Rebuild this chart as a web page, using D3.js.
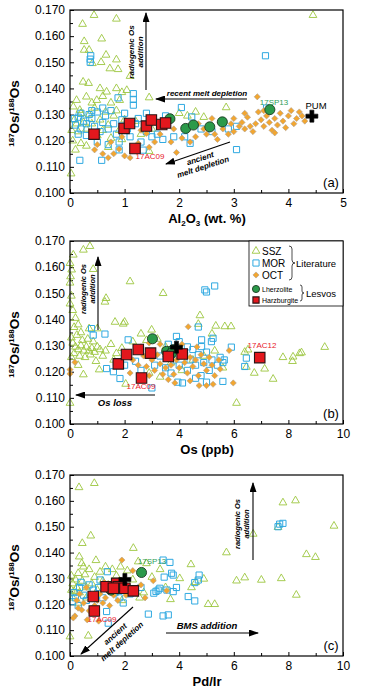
<html>
<head>
<meta charset="utf-8">
<script src="https://d3js.org/d3.v7.min.js"></script>
<style>
body { margin:0; background:#fff; }
text { font-family: "Liberation Sans", Arial, sans-serif; }
</style>
</head>
<body>
<svg id="chart" width="365" height="700"></svg>
<script>
// ---- data: [x, 187Os/188Os] ----
// (a) Al2O3 (wt. %)
var sszA = [[0.44,0.168],[0.85,0.1666],[0.23,0.1646],[4.45,0.168],[0.26,0.158],[0.58,0.159],[0.26,0.1547],[0.35,0.1547],[0.66,0.1528],[0.85,0.151],[0.41,0.1496],[0.57,0.150],[0.73,0.1476],[0.88,0.1473],[1.10,0.1447],[0.24,0.1425],[0.34,0.142],[0.55,0.140],[0.67,0.1387],[0.85,0.140],[0.12,0.1355],[0.06,0.133],[1.04,0.1393],[1.45,0.1365],[2.86,0.1327],[0.02,0.1074],[0.30,0.1368],[0.49,0.1355],[0.18,0.1317],[0.91,0.1355],[0.6,0.137],[0.75,0.1345],[0.95,0.1385],[0.4,0.1345],[0.08,0.128],[0.03,0.124],[0.05,0.120],[0.1,0.1165],[0.2,0.119],[0.3,0.118],[0.15,0.1235],[0.25,0.127],[0.35,0.130],[0.45,0.1325],[0.55,0.128],[0.65,0.131],[0.7,0.126],[0.8,0.1295],[0.9,0.124],[1.0,0.128],[0.5,0.122],[0.6,0.124],[0.75,0.121],[0.4,0.1265],[0.3,0.1245],[0.2,0.1305],[0.12,0.1265],[0.85,0.1315],[1.2,0.1275],[1.3,0.1225],[0.95,0.1205],[1.5,0.1245],[2.0,0.1305],[2.15,0.1295],[2.3,0.131],[2.45,0.129],[1.85,0.1285],[0.7,0.1175],[1.45,0.116]];
var morA = [[3.58,0.1525],[0.37,0.1512],[0.37,0.150],[0.38,0.1525],[1.16,0.138],[1.16,0.1358],[1.16,0.1336],[0.88,0.1364],[2.04,0.1327],[2.23,0.1291],[0.18,0.1125],[0.58,0.1125],[3.05,0.1166],[1.34,0.1164],[0.1,0.126],[0.15,0.129],[0.2,0.1245],[0.25,0.1275],[0.3,0.122],[0.35,0.13],[0.4,0.1285],[0.45,0.1255],[0.5,0.131],[0.55,0.1235],[0.6,0.127],[0.65,0.1295],[0.7,0.1245],[0.75,0.1315],[0.8,0.1265],[0.85,0.1225],[0.9,0.1195],[0.95,0.128],[1.0,0.1305],[1.05,0.1245],[1.1,0.1215],[1.2,0.1265],[1.25,0.1285],[1.3,0.1195],[1.4,0.1235],[1.5,0.1215],[1.6,0.1225],[1.7,0.1205],[1.9,0.1215],[2.1,0.1215],[2.2,0.119],[2.4,0.1245],[2.6,0.1235],[2.9,0.1245],[3.05,0.1255],[0.9,0.1165],[0.7,0.1185],[0.5,0.1195],[0.3,0.1265],[0.2,0.1305],[0.15,0.1225],[0.6,0.1325],[1.4,0.1305],[1.75,0.1295],[3.6,0.1325],[0.4,0.1315],[0.08,0.1285]];
var octA = [[3.43,0.1368],[0.5,0.1185],[0.45,0.1165],[0.6,0.115],[0.7,0.1135],[0.8,0.115],[0.9,0.1168],[1.0,0.1142],[1.1,0.1135],[1.25,0.119],[1.45,0.1175],[1.4,0.1228],[1.55,0.1195],[1.65,0.1225],[1.85,0.1195],[1.95,0.1155],[2.05,0.121],[2.2,0.1195],[2.3,0.1215],[2.5,0.1225],[2.45,0.1245],[2.65,0.1225],[2.75,0.127],[2.8,0.1245],[2.9,0.1225],[2.95,0.1265],[3.0,0.1285],[3.1,0.1255],[3.15,0.127],[3.2,0.1245],[3.25,0.129],[3.3,0.1255],[3.35,0.1235],[3.4,0.1265],[3.45,0.131],[3.5,0.128],[3.55,0.1255],[3.6,0.1295],[3.65,0.127],[3.7,0.124],[3.75,0.1285],[3.8,0.126],[3.85,0.1305],[3.9,0.1275],[3.95,0.125],[4.0,0.1295],[4.05,0.1315],[4.1,0.1265],[4.15,0.1285],[4.2,0.131],[4.25,0.1295],[3.55,0.1315],[3.2,0.1305],[2.6,0.1285],[2.35,0.1265],[1.9,0.1245],[1.6,0.1265],[1.3,0.124],[0.95,0.1215],[0.75,0.1195],[3.75,0.123],[3.0,0.1235],[2.7,0.1205],[4.3,0.1275]];
var lherzA = [[1.83,0.1284],[2.12,0.1247],[2.26,0.126],[2.56,0.1253],[2.79,0.1272],[3.66,0.1319]];
var harzA = [[0.44,0.1225],[0.99,0.1247],[1.09,0.1266],[1.40,0.1256],[1.49,0.1279],[1.19,0.117],[1.68,0.1262],[1.75,0.1268]];
var pumA = [[4.43,0.1294]];

// (b) Os (ppb)
var sszB = [[0.73,0.168],[0.49,0.1666],[0.12,0.1647],[0.0,0.1615],[0.06,0.159],[0.02,0.1564],[0.0,0.154],[0.05,0.149],[0.0,0.146],[0.85,0.1592],[2.2,0.1545],[3.41,0.150],[1.32,0.1481],[1.28,0.1467],[1.65,0.139],[2.0,0.139],[1.95,0.1383],[4.76,0.1415],[4.7,0.1382],[5.67,0.1373],[5.9,0.1373],[5.34,0.1375],[2.99,0.136],[6.52,0.1284],[9.33,0.1294],[7.8,0.1255],[8.17,0.1257],[8.41,0.127],[8.48,0.1273],[8.15,0.124],[7.13,0.1211],[7.44,0.1172],[6.1,0.108],[0.0,0.108],[0.49,0.1189],[1.07,0.1208],[2.04,0.1153],[6.46,0.1218],[0.1,0.1435],[0.2,0.1405],[0.3,0.138],[0.15,0.137],[0.4,0.135],[0.25,0.134],[0.05,0.133],[0.1,0.131],[0.2,0.1295],[0.3,0.1285],[0.4,0.13],[0.5,0.128],[0.6,0.1295],[0.7,0.128],[0.8,0.129],[0.9,0.1275],[1.0,0.1295],[1.1,0.1285],[1.2,0.126],[1.3,0.128],[0.15,0.127],[0.35,0.126],[0.55,0.1255],[0.75,0.1265],[0.95,0.124],[0.05,0.1255],[0.45,0.132],[0.65,0.1325],[0.85,0.1315],[1.5,0.1305],[1.7,0.127],[1.6,0.1245],[1.9,0.129],[2.3,0.1315],[2.6,0.1345],[2.8,0.132],[3.2,0.1325],[3.5,0.1295],[3.7,0.1235],[3.3,0.118],[2.9,0.1195],[4.1,0.1205],[4.5,0.1245],[4.9,0.126],[5.3,0.128],[5.6,0.1215],[5.2,0.1345],[6.4,0.1275],[0.7,0.1365],[1.0,0.1365],[0.3,0.1225],[6.75,0.1195]];
var morB = [[4.94,0.1513],[5.0,0.1505],[5.3,0.1528],[0.79,0.1365],[0.85,0.134],[1.28,0.1344],[4.7,0.1371],[2.13,0.1322],[1.34,0.1212],[1.59,0.120],[1.83,0.1174],[3.0,0.1138],[4.12,0.1157],[5.6,0.1163],[5.91,0.1294],[6.46,0.1252],[6.4,0.122],[5.24,0.1328],[5.18,0.1315],[4.82,0.1322],[4.82,0.1296],[3.9,0.1335],[2.4,0.124],[2.6,0.1205],[3.1,0.1225],[3.3,0.126],[3.5,0.1215],[3.7,0.1195],[3.8,0.1245],[4.0,0.1225],[4.2,0.1265],[4.3,0.1205],[4.4,0.1245],[4.5,0.1285],[4.6,0.1225],[4.7,0.1265],[4.8,0.1185],[4.9,0.1235],[5.0,0.1275],[5.1,0.1205],[5.2,0.1245],[5.4,0.1225],[5.5,0.1255],[5.6,0.1235],[5.65,0.1245],[3.6,0.1305],[4.0,0.1315],[4.3,0.1295],[5.0,0.116],[4.6,0.1175],[3.95,0.116],[1.7,0.1235],[2.0,0.1225]];
var octB = [[0.0,0.1208],[0.0,0.1192],[0.18,0.1236],[4.33,0.1372],[5.83,0.1281],[5.98,0.1157],[3.05,0.1322],[5.0,0.1147],[5.24,0.1152],[4.73,0.1147],[3.84,0.1157],[2.3,0.1245],[2.5,0.1225],[2.7,0.126],[2.8,0.122],[2.9,0.1185],[3.0,0.1245],[3.1,0.1205],[3.2,0.1265],[3.3,0.123],[3.4,0.119],[3.5,0.1215],[3.6,0.125],[3.7,0.1225],[3.8,0.119],[3.9,0.1245],[4.0,0.1215],[4.1,0.1265],[4.2,0.1235],[4.3,0.1195],[4.4,0.1255],[4.5,0.122],[4.6,0.1245],[4.7,0.1185],[4.8,0.1265],[4.9,0.123],[5.0,0.1205],[5.1,0.1255],[5.2,0.1225],[5.3,0.1185],[5.45,0.1245],[5.5,0.121],[2.6,0.1295],[3.3,0.1305],[4.1,0.1305],[3.6,0.117],[4.4,0.1165],[2.9,0.131],[4.65,0.1295],[2.2,0.1195]];
var lherzB = [[3.02,0.1326],[3.54,0.1278],[3.66,0.1265],[3.78,0.1284],[3.6,0.1259],[3.72,0.1271]];
var harzB = [[1.77,0.123],[2.07,0.1266],[2.5,0.1285],[2.95,0.1271],[3.6,0.1258],[4.11,0.1268],[2.62,0.1176],[6.95,0.1254]];
var pumB = [[3.9,0.1294]];

// (c) Pd/Ir
var sszC = [[0.33,0.1652],[0.89,0.1668],[0.45,0.1436],[0.76,0.1465],[2.32,0.1417],[0.34,0.1384],[0.43,0.1358],[0.49,0.1345],[2.8,0.1358],[4.43,0.1354],[5.73,0.140],[6.71,0.1472],[6.1,0.1291],[6.4,0.1303],[7.01,0.1294],[7.74,0.130],[7.62,0.1498],[7.8,0.1593],[8.26,0.1601],[8.66,0.1393],[8.99,0.1382],[9.67,0.1503],[8.29,0.1236],[5.06,0.120],[5.3,0.120],[4.9,0.1298],[4.02,0.130],[3.68,0.1219],[0.67,0.1078],[0.0,0.1075],[0.05,0.131],[0.1,0.128],[0.15,0.125],[0.2,0.1295],[0.25,0.1265],[0.3,0.132],[0.35,0.1245],[0.45,0.129],[0.55,0.1315],[0.6,0.1265],[0.7,0.1335],[0.8,0.128],[0.9,0.1305],[1.0,0.1255],[1.1,0.1325],[1.2,0.129],[1.3,0.1345],[1.4,0.1275],[1.55,0.1335],[1.7,0.131],[1.85,0.1345],[2.1,0.133],[2.3,0.1295],[2.5,0.1365],[2.7,0.1245],[3.0,0.1305],[3.3,0.1335],[2.55,0.1225],[0.1,0.1225],[0.3,0.1205],[0.05,0.1255],[0.6,0.1225],[1.9,0.1215],[1.6,0.1245],[0.95,0.137],[3.5,0.1265],[4.45,0.1265],[4.6,0.1285]];
var morC = [[7.68,0.151],[7.8,0.1513],[7.62,0.150],[3.41,0.1371],[3.66,0.1362],[3.72,0.132],[3.78,0.1313],[4.73,0.1313],[4.7,0.1294],[4.57,0.1284],[4.33,0.123],[4.57,0.1213],[2.87,0.1162],[3.41,0.1155],[3.6,0.1159],[1.37,0.1326],[1.1,0.1294],[1.34,0.1172],[1.4,0.1127],[3.07,0.1243],[3.23,0.1255],[3.29,0.1262],[3.78,0.1249],[3.45,0.1305],[3.55,0.1255],[3.15,0.125],[0.15,0.1245],[0.2,0.1225],[0.3,0.1195],[0.35,0.1265],[0.5,0.1235],[0.6,0.1215],[0.7,0.1275],[0.85,0.1255],[0.95,0.1225],[1.05,0.1265],[1.2,0.1225],[1.5,0.1265],[1.65,0.1245],[1.8,0.1225],[1.95,0.1205],[2.2,0.124],[2.4,0.1255],[2.6,0.1265],[0.1,0.121],[0.4,0.1285],[3.9,0.1265]];
var octC = [[1.9,0.1371],[0.18,0.1155],[0.12,0.1147],[0.43,0.1178],[0.63,0.114],[3.05,0.1291],[3.54,0.1252],[0.3,0.1185],[0.5,0.1205],[0.7,0.1175],[0.8,0.1225],[0.9,0.1195],[1.0,0.1215],[1.1,0.124],[1.2,0.1205],[1.3,0.1225],[1.45,0.1195],[1.6,0.1235],[1.75,0.1215],[1.9,0.1255],[2.05,0.1235],[2.2,0.1265],[2.4,0.1245],[2.6,0.1275],[2.75,0.1225],[1.5,0.1275],[0.6,0.1265],[0.35,0.124],[2.3,0.133],[1.25,0.1285],[1.05,0.1135],[0.25,0.1215]];
var lherzC = [[2.62,0.1323],[1.45,0.1265],[1.6,0.127],[1.85,0.1275],[1.75,0.126],[1.5,0.1255]];
var harzC = [[0.85,0.123],[0.89,0.1174],[1.32,0.1268],[1.71,0.1281],[1.77,0.1268],[2.01,0.1262],[2.32,0.1252],[1.59,0.1262]];
var pumC = [[2.01,0.1296]];

var yTicks = [0.100,0.110,0.120,0.130,0.140,0.150,0.160,0.170];

var svg = d3.select("#chart");
var defs = svg.append("defs");
defs.append("marker").attr("id","ah")
  .attr("markerUnits","userSpaceOnUse")
  .attr("markerWidth",10).attr("markerHeight",7)
  .attr("refX",9).attr("refY",3.5).attr("orient","auto")
  .append("path").attr("d","M0,0 L10,3.5 L0,7 z").attr("fill","#000");

var cSSZ = "#9cc63e", cMOR = "#2fa9e1", cOCT = "#f2a630", cLhz = "#2b9a4a", cHzb = "#e3171d";

var styles = {
  ssz:   {type: d3.symbolTriangle, size: 26, fill: "none", stroke: cSSZ, sw: 0.9, rot: 0},
  mor:   {type: d3.symbolSquare, size: 38, fill: "none", stroke: cMOR, sw: 1, rot: 0},
  oct:   {type: d3.symbolSquare, size: 19, fill: cOCT, stroke: "#b0a08e", sw: 0.6, rot: 45},
  lherz: {type: d3.symbolCircle, size: 80, fill: cLhz, stroke: "#1c3a22", sw: 0.9, rot: 0},
  harz:  {type: d3.symbolSquare, size: 110, fill: cHzb, stroke: "#2a1414", sw: 1.1, rot: 0},
  pum:   {type: d3.symbolCross, size: 80, fill: "#000", stroke: "#000", sw: 0.6, rot: 0}
};

function drawPoints(g, data, st, x, y) {
  g.append("g").selectAll("path").data(data).enter().append("path")
    .attr("d", d3.symbol().type(st.type).size(st.size))
    .attr("transform", d => "translate(" + x(d[0]) + "," + y(d[1]) + ") rotate(" + st.rot + ")")
    .attr("fill", st.fill).attr("stroke", st.stroke).attr("stroke-width", st.sw);
}

function label(g, x, y, s, size, opts) {
  opts = opts || {};
  return g.append("text").attr("x", x).attr("y", y)
    .attr("font-size", size)
    .attr("text-anchor", opts.anchor || "middle")
    .attr("font-weight", opts.bold ? "bold" : "normal")
    .attr("font-style", opts.italic ? "italic" : "normal")
    .attr("fill", opts.fill || "#000")
    .text(s);
}

function arrow(g, x1, y1, x2, y2) {
  g.append("line").attr("x1",x1).attr("y1",y1).attr("x2",x2).attr("y2",y2)
    .attr("stroke","#000").attr("stroke-width",1.1).attr("marker-end","url(#ah)");
}

// rotated two-line annotation
function rotText(g, cx, cy, angle, lines, size, gap) {
  var t = g.append("g").attr("transform", "translate(" + cx + "," + cy + ") rotate(" + angle + ")");
  lines.forEach(function(s, i) {
    t.append("text").attr("x", 0).attr("y", i * gap)
      .attr("font-size", size).attr("font-weight", "bold").attr("font-style", "italic")
      .attr("text-anchor", "middle").text(s);
  });
}

function panel(cfg) {
  var g = svg.append("g");
  var x = d3.scaleLinear().domain([0, cfg.xMax]).range([70, 343]);
  var y = d3.scaleLinear().domain([0.100, 0.170]).range([cfg.bottom, cfg.top]);

  // minor ticks
  g.append("g").attr("transform", "translate(70,0)")
    .call(d3.axisLeft(y).tickValues(d3.range(0.105, 0.170, 0.01)).tickSize(-3).tickFormat(""))
    .call(a => a.select(".domain").remove());
  g.append("g").attr("transform", "translate(0," + cfg.bottom + ")")
    .call(d3.axisBottom(x).tickValues(d3.range(cfg.xMinor, cfg.xMax, cfg.xMajor)).tickSize(-3).tickFormat(""))
    .call(a => a.select(".domain").remove());

  // major ticks
  g.append("g").attr("transform", "translate(70,0)")
    .call(d3.axisLeft(y).tickValues(yTicks).tickSize(-4).tickPadding(5).tickFormat(d3.format(".3f")))
    .call(a => a.select(".domain").remove())
    .call(a => a.selectAll("text").attr("font-size", 12).attr("font-family", "Liberation Sans, Arial, sans-serif"));
  g.append("g").attr("transform", "translate(0," + cfg.bottom + ")")
    .call(d3.axisBottom(x).tickValues(d3.range(0, cfg.xMax + 0.001, cfg.xMajor)).tickSize(-4).tickPadding(5).tickFormat(d3.format("d")))
    .call(a => a.select(".domain").remove())
    .call(a => a.selectAll("text").attr("font-size", 12).attr("font-family", "Liberation Sans, Arial, sans-serif"));

  drawPoints(g, cfg.ssz, styles.ssz, x, y);
  drawPoints(g, cfg.mor, styles.mor, x, y);
  drawPoints(g, cfg.oct, styles.oct, x, y);
  drawPoints(g, cfg.lherz, styles.lherz, x, y);
  drawPoints(g, cfg.harz, styles.harz, x, y);
  drawPoints(g, cfg.pum, styles.pum, x, y);

  // frame
  g.append("rect").attr("x", 70).attr("y", cfg.top).attr("width", 273).attr("height", cfg.bottom - cfg.top)
    .attr("fill", "none").attr("stroke", "#000").attr("stroke-width", 1.2);

  // y title
  var yt = g.append("text").attr("transform", "translate(19," + ((cfg.top + cfg.bottom) / 2 + 12) + ") rotate(-90)")
    .attr("text-anchor", "middle").attr("font-size", 13.5).attr("font-weight", "bold");
  yt.append("tspan").attr("font-size", 8).attr("dy", -5).text("187");
  yt.append("tspan").attr("dy", 5).text("Os/");
  yt.append("tspan").attr("font-size", 8).attr("dy", -5).text("188");
  yt.append("tspan").attr("dy", 5).text("Os");

  // x title
  var xt = g.append("text").attr("x", 207).attr("y", cfg.bottom + 30)
    .attr("text-anchor", "middle").attr("font-size", 13).attr("font-weight", "bold");
  cfg.xTitle.forEach(function(p) {
    var ts = xt.append("tspan").text(p[0]);
    if (p[1] === "sub") ts.attr("font-size", 8).attr("dy", 3);
    if (p[1] === "back") ts.attr("dy", -3);
  });

  label(g, 331, cfg.bottom - 6, cfg.tag, 13);
  cfg.notes(g, x, y);
}

panel({
  top: 10, bottom: 193, xMax: 5, xMajor: 1, xMinor: 0.5,
  ssz: sszA, mor: morA, oct: octA, lherz: lherzA, harz: harzA, pum: pumA,
  xTitle: [["Al"], ["2","sub"], ["O","back"], ["3","sub"], [" (wt. %)","back"]],
  tag: "(a)",
  notes: function(g) {
    arrow(g, 146, 90, 146, 13);
    rotText(g, 134, 52, -90, ["radiogenic Os", "addition"], 8, 9);
    arrow(g, 247, 99, 156, 99);
    label(g, 207, 96, "recent melt depletion", 8, {bold: true, italic: true});
    arrow(g, 230, 142, 166, 164);
    rotText(g, 201, 161, -18, ["ancient", "melt depletion"], 8, 9);
    label(g, 150, 159, "17AC09", 8, {fill: "#e8202a"});
    label(g, 274, 105, "17SP13", 8, {fill: "#2e9e5a"});
    label(g, 316, 109, "PUM", 9.5);
  }
});

panel({
  top: 241, bottom: 424, xMax: 10, xMajor: 2, xMinor: 1,
  ssz: sszB, mor: morB, oct: octB, lherz: lherzB, harz: harzB, pum: pumB,
  xTitle: [["Os (ppb)"]],
  tag: "(b)",
  notes: function(g) {
    arrow(g, 98, 330, 98, 257);
    rotText(g, 86, 289, -90, ["radiogenic Os", "addition"], 7.5, 8.5);
    arrow(g, 155, 395, 76, 395);
    label(g, 115, 406, "Os loss", 9.5, {bold: true, italic: true});
    label(g, 262, 348, "17AC12", 8, {fill: "#e8202a"});
    label(g, 141, 389, "17AC09", 8, {fill: "#e8202a"});

    // legend
    var lg = g.append("g");
    lg.append("rect").attr("x", 249).attr("y", 241).attr("width", 94).attr("height", 65)
      .attr("fill", "#fff").attr("stroke", "#000").attr("stroke-width", 0.8);
    var rows = [["SSZ", styles.ssz, 251, 10], ["MOR", styles.mor, 263, 10], ["OCT", styles.oct, 275, 10],
                ["Lherzolite", styles.lherz, 289, 7], ["Harzburgite", styles.harz, 300, 7]];
    rows.forEach(function(r) {
      var st = r[1];
      var sz = st === styles.lherz ? 40 : (st === styles.harz ? 38 : st.size);
      lg.append("path").attr("d", d3.symbol().type(st.type).size(sz))
        .attr("transform", "translate(256," + r[2] + ") rotate(" + st.rot + ")")
        .attr("fill", st.fill).attr("stroke", st.stroke).attr("stroke-width", st.sw);
      label(lg, 262, r[2] + (r[3] > 8 ? 4 : 2.5), r[0], r[3], {anchor: "start"});
    });
    lg.append("path").attr("d", "M289,246 q3,0 3,3 v11 q0,3 3,3 q-3,0 -3,3 v11 q0,3 -3,3")
      .attr("fill", "none").attr("stroke", "#000").attr("stroke-width", 0.7);
    label(lg, 296, 267, "Literature", 9.5, {anchor: "start"});
    lg.append("path").attr("d", "M300,285 q2,0 2,2 v4 q0,2 2,2 q-2,0 -2,2 v4 q0,2 -2,2")
      .attr("fill", "none").attr("stroke", "#000").attr("stroke-width", 0.7);
    label(lg, 306, 297, "Lesvos", 9.5, {anchor: "start"});
  }
});

panel({
  top: 475, bottom: 656, xMax: 10, xMajor: 2, xMinor: 1,
  ssz: sszC, mor: morC, oct: octC, lherz: lherzC, harz: harzC, pum: pumC,
  xTitle: [["Pd/Ir"]],
  tag: "(c)",
  notes: function(g) {
    arrow(g, 133, 607, 81, 654);
    arrow(g, 253, 560, 253, 483);
    rotText(g, 240, 524, -90, ["radiogenic Os", "addition"], 7.5, 8.5);
    arrow(g, 166, 633, 258, 633);
    label(g, 207, 629, "BMS addition", 9.5, {bold: true, italic: true});
    rotText(g, 117, 636, -42, ["ancient", "melt depletion"], 8, 10);
    label(g, 152, 564, "17SP13", 8, {fill: "#2e9e5a"});
    label(g, 102, 622, "17AC09", 8, {fill: "#e8202a"});
  }
});
</script>
</body>
</html>
